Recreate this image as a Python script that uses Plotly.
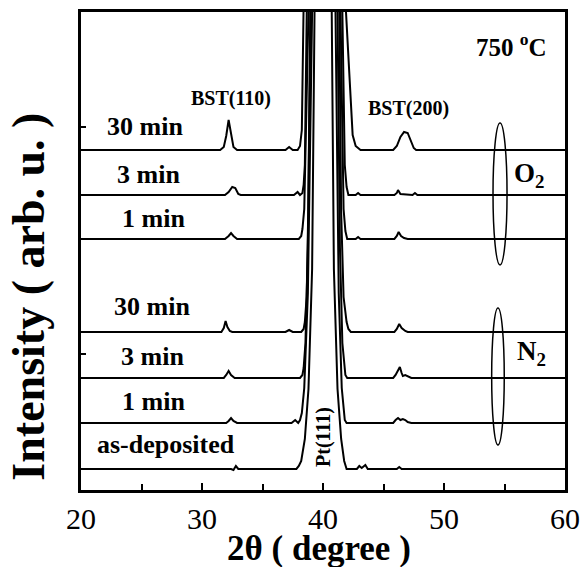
import plotly.graph_objects as go

# ---- data (2-theta in degrees, intensity relative to each curve's baseline, arb. u.) ----
labels = ["30 min", "3 min", "1 min", "30 min", "3 min", "1 min", "as-deposited"]
offsets = [340, 295, 251, 158, 112, 67, 21]

x_o2_30 = [20, 31.5, 31.8, 32.0, 32.2, 32.4, 32.6, 32.9, 36.9, 37.2, 37.5, 37.9, 38.1, 38.25, 38.5, 40.0,
           41.9, 42.25, 42.45, 42.7, 43.1, 45.8, 46.1, 46.4, 46.7, 47.0, 47.3, 47.5, 47.7, 60]
y_o2_30 = [0, 0, 3, 14, 30, 14, 3, 0, 0, 3, 0, 0, 4, 20, 138, 1500,
           138, 50, 15, 4, 0, 0, 4, 13, 18, 17, 8, 2, 0, 0]

x_o2_3 = [20, 31.9, 32.2, 32.5, 32.75, 33.0, 33.2, 37.6, 37.9, 38.1, 38.3, 38.4, 38.5, 38.7, 40.0,
          41.6, 41.8, 41.95, 42.1, 42.7, 42.9, 43.1, 45.9, 46.1, 46.2, 46.4, 47.4, 47.6, 47.8, 60]
y_o2_3 = [0, 0, 3, 8, 7, 1, 0, 0, 3, 0, 2, 10, 30, 183, 1500,
          183, 30, 8, 0, 0, 2, 0, 0, 2, 5, 1, 0, 2, 0, 0]

x_o2_1 = [20, 31.9, 32.2, 32.4, 32.6, 32.9, 38.0, 38.2, 38.3, 38.45, 38.8, 40.0,
          41.45, 41.7, 41.85, 42.0, 42.7, 42.9, 43.1, 45.9, 46.1, 46.25, 46.45, 46.7, 47.0, 60]
y_o2_1 = [0, 0, 3, 6, 3, 0, 0, 3, 10, 30, 227, 1500,
          227, 30, 8, 0, 0, 2, 0, 0, 3, 7, 3, 1, 0, 0]

x_n2_30 = [20, 31.6, 31.8, 31.95, 32.1, 32.3, 32.5, 36.9, 37.2, 37.5, 38.2, 38.4, 38.5, 38.65, 38.78, 38.9, 40.0,
           41.35, 41.5, 41.7, 41.95, 42.1, 42.3, 45.9, 46.1, 46.3, 46.5, 46.8, 47.0, 60]
y_n2_30 = [0, 0, 4, 11, 5, 1, 0, 0, 2, 0, 0, 3, 10, 35, 120, 320, 1500,
           320, 120, 35, 10, 3, 0, 0, 3, 8, 4, 1, 0, 0]

x_n2_3 = [20, 31.8, 32.0, 32.2, 32.4, 32.7, 38.1, 38.3, 38.4, 38.55, 38.75, 39.0, 40.0,
          41.2, 41.4, 41.6, 41.75, 41.85, 42.0, 45.8, 46.0, 46.2, 46.35, 46.5, 46.6, 46.8, 47.0, 47.3, 60]
y_n2_3 = [0, 0, 3, 7, 3, 0, 0, 3, 10, 35, 130, 366, 1500,
          366, 130, 35, 10, 3, 0, 0, 3, 8, 11, 5, 2, 3, 2, 0, 0]

x_n2_1 = [20, 32.0, 32.2, 32.4, 32.6, 32.9, 37.4, 37.7, 37.95, 38.1, 38.25, 38.45, 38.75, 39.1, 40.0,
          41.05, 41.3, 41.55, 41.7, 41.8, 41.95, 45.8, 46.0, 46.2, 46.4, 46.6, 46.8, 47.0, 47.3, 60]
y_n2_1 = [0, 0, 2, 5, 2, 0, 0, 3, 0, 3, 10, 35, 130, 411, 1500,
          411, 130, 35, 10, 3, 0, 0, 3, 5, 3, 4, 3, 1, 0, 0]

x_asdep = [20, 32.4, 32.6, 32.8, 33.0, 37.8, 38.0, 38.2, 38.5, 38.8, 39.1, 39.3, 40.0,
           40.7, 40.9, 41.2, 41.5, 41.75, 41.95, 42.8, 43.0, 43.2, 43.5, 43.7, 46.1, 46.3, 46.5, 60]
y_asdep = [0, 0, -1, 3, 0, 0, 3, 8, 30, 80, 200, 457, 1500,
           457, 200, 80, 30, 8, 0, 0, 3, 1, 4, 0, 0, 2, 0, 0]

xs = [x_o2_30, x_o2_3, x_o2_1, x_n2_30, x_n2_3, x_n2_1, x_asdep]
ys = [y_o2_30, y_o2_3, y_o2_1, y_n2_30, y_n2_3, y_n2_1, y_asdep]

x_ticks = [20, 30, 40, 50, 60]

# ---- figure ----
FONT = "Liberation Serif, Times New Roman, serif"
fig = go.Figure()
for xv, yv, off in zip(xs, ys, offsets):
    fig.add_trace(go.Scatter(x=xv, y=[v + off for v in yv], mode="lines",
                             line=dict(color="black", width=2), showlegend=False,
                             hoverinfo="skip"))

ann = []
label_pos = [(25.3, 364), (25.6, 316), (26.0, 272), (25.9, 184), (25.9, 134), (26.0, 89), (27.0, 46)]
for (lx, ly), t in zip(label_pos, labels):
    ann.append(dict(x=lx, y=ly, text=f"<b>{t}</b>", showarrow=False,
                    font=dict(family=FONT, size=26, color="black")))
ann += [
    dict(x=32.4, y=392, text="<b>BST(110)</b>", showarrow=False, font=dict(family=FONT, size=20, color="black")),
    dict(x=47.1, y=382, text="<b>BST(200)</b>", showarrow=False, font=dict(family=FONT, size=20, color="black")),
    dict(x=55.6, y=445, text="<b>750 <sup>o</sup>C</b>", showarrow=False, font=dict(family=FONT, size=25, color="black")),
    dict(x=57.0, y=315, text="<b>O<sub>2</sub></b>", showarrow=False, font=dict(family=FONT, size=27, color="black")),
    dict(x=57.2, y=137, text="<b>N<sub>2</sub></b>", showarrow=False, font=dict(family=FONT, size=27, color="black")),
    dict(x=40.0, y=53, text="<b>Pt(111)</b>", textangle=-90, showarrow=False, font=dict(family=FONT, size=20, color="black")),
    dict(x=-0.109, y=0.405, xref="paper", yref="paper", xanchor="center", yanchor="middle",
         text="<b>Intensity ( arb. u. )</b>", textangle=-90,
         showarrow=False, font=dict(family=FONT, size=46, color="black")),
    dict(x=0.492, y=-0.1215, xref="paper", yref="paper", xanchor="center", yanchor="middle",
         text="<b>2θ ( degree )</b>",
         showarrow=False, font=dict(family=FONT, size=35, color="black")),
]
for a in ann:
    a.setdefault("xanchor", "center")
    a.setdefault("yanchor", "middle")

shapes = [
    dict(type="circle", xref="x", yref="y", x0=54.05, x1=55.21, y0=225, y1=367, line=dict(color="black", width=1.5)),
    dict(type="circle", xref="x", yref="y", x0=53.94, x1=54.98, y0=45, y1=182, line=dict(color="black", width=1.5)),
]

fig.update_layout(
    width=581, height=567,
    margin=dict(l=81, r=16, t=12, b=77, autoexpand=False),
    paper_bgcolor="white", plot_bgcolor="white",
    annotations=ann, shapes=shapes,
    font=dict(family=FONT, color="black"),
)
fig.update_xaxes(range=[20, 60], tickvals=x_ticks, ticks="inside", ticklen=7, tickwidth=2,
                 tickcolor="black", showline=True, linewidth=3, linecolor="black", mirror=True,
                 showgrid=False, zeroline=False, automargin=False, ticklabelstandoff=0,
                 tickfont=dict(family=FONT, size=30, color="black"),
                 minor=dict(dtick=5, tick0=20, ticks="inside", ticklen=6, tickwidth=2, tickcolor="black"))
fig.update_yaxes(range=[0, 478], tickvals=[136, 363], ticktext=["", ""], ticks="inside", ticklen=5,
                 tickwidth=2, tickcolor="black", showline=True, linewidth=3, linecolor="black",
                 mirror=True, showgrid=False, zeroline=False, automargin=False)

fig.write_html("out.html", config={"displayModeBar": False},
               post_script="document.body.style.margin='0px';")
